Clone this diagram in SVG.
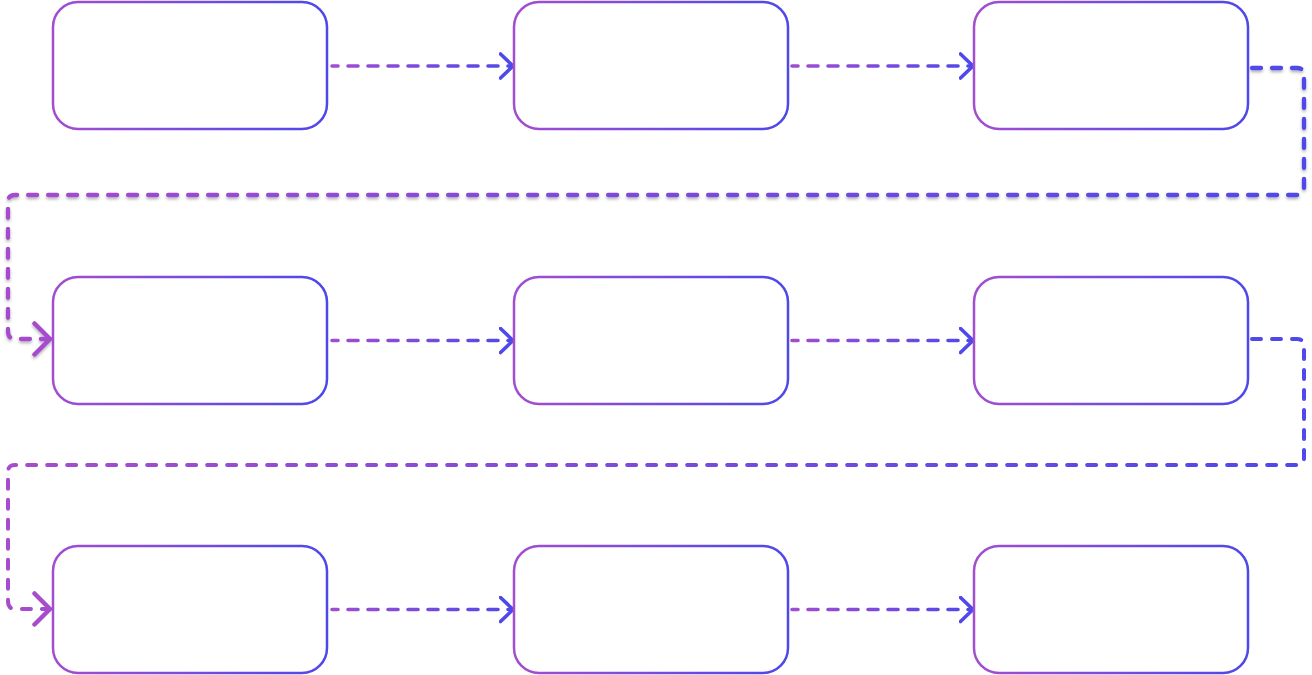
<svg xmlns="http://www.w3.org/2000/svg" width="1312" height="675" viewBox="0 0 1312 675">
<style>
.node{fill:#fff;stroke:url(#ng);stroke-width:2.5}
.h{fill:none;stroke-width:3.6;stroke-dasharray:10 10;stroke-dashoffset:4;stroke-linecap:round;marker-end:url(#ah)}
.h1{stroke:url(#hg1)}
.h2{stroke:url(#hg2)}
.r{fill:none;stroke:url(#rg);stroke-width:4.3;stroke-dasharray:9 11;stroke-linecap:round;stroke-linejoin:round;marker-end:url(#ar)}
</style>
<defs>
<linearGradient id="ng" x1="0" y1="0" x2="1" y2="0"><stop offset="0" stop-color="#a34dcf"/><stop offset="1" stop-color="#4d48ea"/></linearGradient>
<linearGradient id="hg1" gradientUnits="userSpaceOnUse" x1="332" y1="0" x2="513" y2="0"><stop offset="0" stop-color="#a24dcf"/><stop offset="1" stop-color="#4f48ea"/></linearGradient>
<linearGradient id="hg2" gradientUnits="userSpaceOnUse" x1="792" y1="0" x2="973" y2="0"><stop offset="0" stop-color="#a24dcf"/><stop offset="1" stop-color="#4f48ea"/></linearGradient>
<linearGradient id="rg" x1="1" y1="0" x2="0" y2="0"><stop offset="0" stop-color="#4f48ea"/><stop offset="1" stop-color="#a64ccd"/></linearGradient>
<marker id="ah" viewBox="0 0 16 28" refX="14.5" refY="14" markerWidth="16" markerHeight="28" markerUnits="userSpaceOnUse" orient="auto"><path d="M2,2 L14.5,14 L2,26" fill="none" stroke="#4f48ea" stroke-width="3.6" stroke-linecap="round" stroke-linejoin="round"/></marker>
<marker id="ar" viewBox="0 0 20 36" refX="18" refY="18" markerWidth="20" markerHeight="36" markerUnits="userSpaceOnUse" orient="auto"><path d="M2.5,2.5 L18,18 L2.5,33.5" fill="none" stroke="#a64ccd" stroke-width="4.5" stroke-linecap="round" stroke-linejoin="round"/></marker>
<filter id="sh" x="-5%" y="-10%" width="110%" height="130%"><feDropShadow dx="0" dy="2" stdDeviation="1.5" flood-color="#000" flood-opacity="0.3"/></filter>
</defs>
<g id="connectors">
<path class="h h1" d="M332,66 H513"/>
<path class="h h2" d="M792,66 H973"/>
<path class="h h1" d="M332,340.5 H513"/>
<path class="h h2" d="M792,340.5 H973"/>
<path class="h h1" d="M332,609.5 H513"/>
<path class="h h2" d="M792,609.5 H973"/>
<path class="r" filter="url(#sh)" d="M1252,68 H1297 Q1304,68 1304,75 V188 Q1304,195 1297,195 H15 Q8,195 8,202 V331 Q8,339 15,339 H50"/>
<path class="r" style="stroke-width:4" d="M1252,339 H1297 Q1304,339 1304,346 V458 Q1304,465 1297,465 H15 Q8,465 8,472 V601 Q8,609 15,609 H50"/>
</g>
<g id="n1"><rect class="node" x="53" y="2" width="274" height="127" rx="25"/></g>
<g id="n2"><rect class="node" x="514" y="2" width="274" height="127" rx="25"/></g>
<g id="n3"><rect class="node" x="974" y="2" width="274" height="127" rx="25"/></g>
<g id="n4"><rect class="node" x="53" y="277" width="274" height="127" rx="25"/></g>
<g id="n5"><rect class="node" x="514" y="277" width="274" height="127" rx="25"/></g>
<g id="n6"><rect class="node" x="974" y="277" width="274" height="127" rx="25"/></g>
<g id="n7"><rect class="node" x="53" y="546" width="274" height="127" rx="25"/></g>
<g id="n8"><rect class="node" x="514" y="546" width="274" height="127" rx="25"/></g>
<g id="n9"><rect class="node" x="974" y="546" width="274" height="127" rx="25"/></g>
</svg>
